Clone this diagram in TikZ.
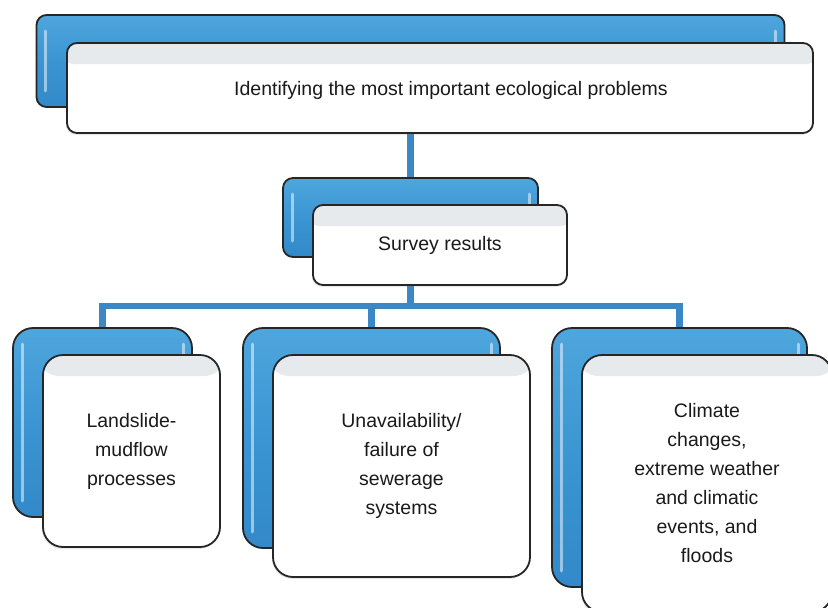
\documentclass[tikz,border=0pt]{standalone}
\usepackage{fontspec}
\setmainfont{Liberation Sans}
\usetikzlibrary{backgrounds,shadows}

\definecolor{boxblue}{HTML}{3A95D2}
\definecolor{boxbluelight}{HTML}{4FA6DD}
\definecolor{boxbluedark}{HTML}{3389C9}
\definecolor{linkblue}{HTML}{3A88C5}
\definecolor{bandgray}{HTML}{E6EAED}
\definecolor{inkgray}{HTML}{1A1A1A}

\tikzset{
  backbox/.style={draw=black!85, line width=1.8pt, rounded corners=#1,
    top color=boxbluelight, bottom color=boxbluedark, middle color=boxblue,
    inner sep=0pt, outer sep=0pt},
  frontbox/.style={draw=black!85, line width=1.8pt, rounded corners=#1,
    fill=white, inner sep=0pt, outer sep=0pt,
    drop shadow={shadow xshift=-1pt, shadow yshift=-2pt, opacity=0.18},
    path picture={\fill[bandgray]
      ([xshift=-4pt,yshift=2pt]path picture bounding box.north west) rectangle
      ([xshift=4pt,yshift=-21pt]path picture bounding box.north east);},
    text=inkgray, align=center,
    font=\fontsize{19.5}{29}\selectfont},
  gloss/.style={draw=white, opacity=0.5, line width=3pt, line cap=round},
  link/.style={draw=linkblue, line width=6.5pt}
}

\begin{document}
\begin{tikzpicture}[x=1pt, y=-1pt]
\useasboundingbox (0,0) rectangle (828,608);

% back (blue) cards
\node[backbox=10pt, minimum width=748pt, minimum height=92pt] (topback) at (410.5,61) {};
\node[backbox=10pt, minimum width=255pt, minimum height=79pt] (survback) at (410.5,217.5) {};
\node[backbox=20pt, minimum width=179pt, minimum height=189pt] (lb) at (102.5,422.5) {};
\node[backbox=20pt, minimum width=257pt, minimum height=220pt] (mb) at (371.5,438) {};
\node[backbox=20pt, minimum width=255pt, minimum height=259pt] (rb) at (679.5,457.5) {};

% glossy bevels on the blue cards
\foreach \b in {topback,survback,lb,mb,rb}{
  \draw[gloss] ([xshift=9pt,yshift=-16pt]\b.north west) -- ([xshift=9pt,yshift=16pt]\b.south west);
  \draw[gloss] ([xshift=-9pt,yshift=-16pt]\b.north east) -- ([xshift=-9pt,yshift=-30pt]\b.north east);
}

% front (white) cards
\node[frontbox=10pt, minimum width=746pt, minimum height=90pt,
      label={[xshift=11pt, yshift=-2pt, text=inkgray, font=\fontsize{19.5}{29}\selectfont]center:Identifying the most important ecological problems}]
      (topfront) at (440,88) {};
\node[frontbox=10pt, minimum width=254pt, minimum height=80pt] (survfront) at (440,245)
      {\raisebox{-3pt}{Survey results}};
\node[frontbox=20pt, minimum width=177pt, minimum height=192pt] (lf) at (131.5,451)
      {Landslide-\\mudflow\\processes};
\node[frontbox=20pt, minimum width=257pt, minimum height=222pt] (mf) at (401.5,466)
      {Unavailability/\\failure of\\sewerage\\systems};
\node[frontbox=20pt, minimum width=250pt, minimum height=257pt] (rf) at (707,483.5)
      {Climate\\changes,\\extreme weather\\and climatic\\events, and\\floods};

% connectors behind the cards
\coordinate (bus) at (0,306);
\begin{scope}[on background layer]
  \draw[link] (topback.south) -- (survback.north);
  \draw[link] (survback.south) -- (survback.south |- bus) -| (lb.north);
  \draw[link] (survback.south |- bus) -| (mb.north);
  \draw[link] (survback.south |- bus) -| (rb.north);
\end{scope}
\end{tikzpicture}
\end{document}
